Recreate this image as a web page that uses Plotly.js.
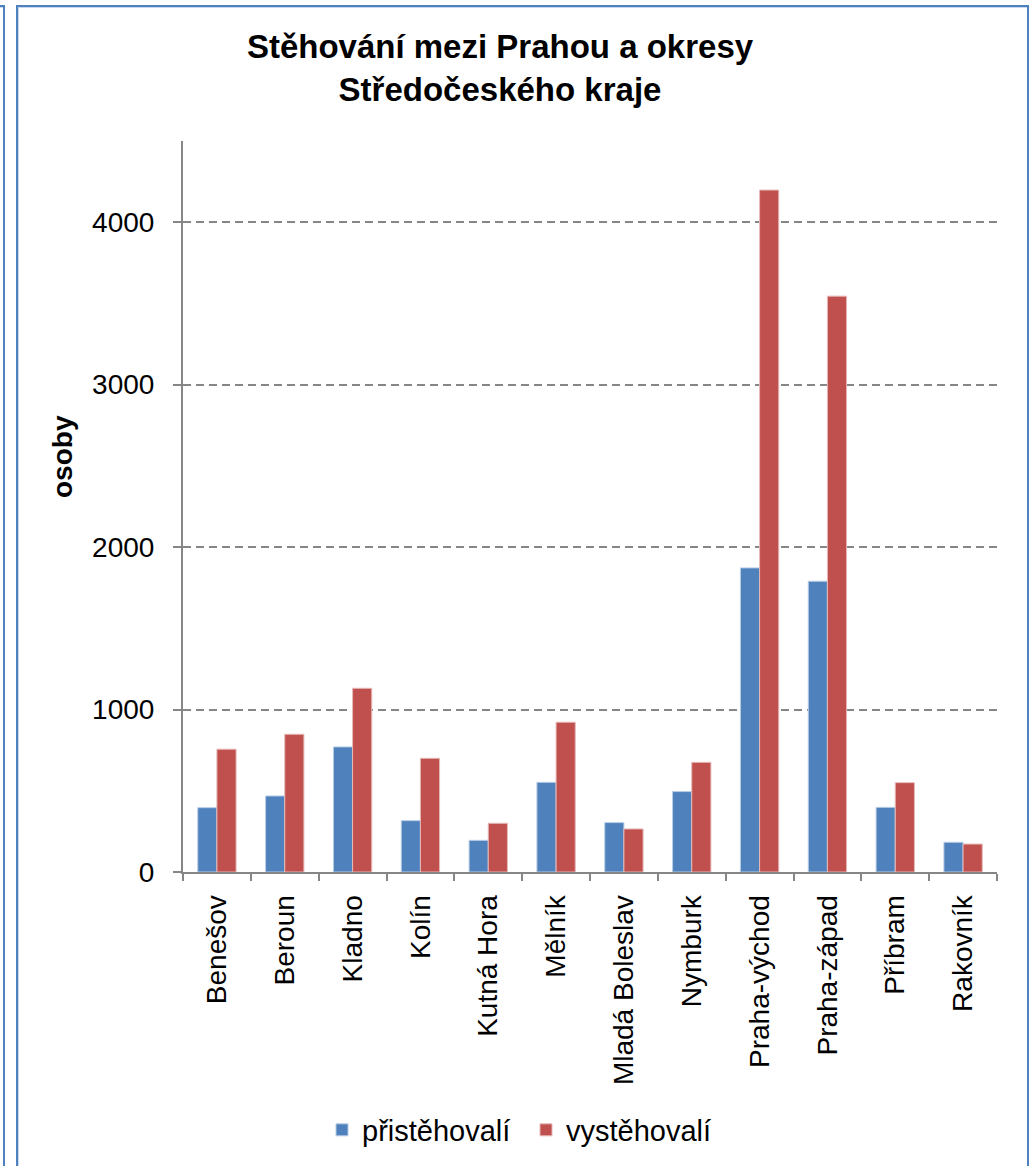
<!DOCTYPE html>
<html>
<head>
<meta charset="utf-8">
<script src="https://cdn.plot.ly/plotly-3.0.1.min.js"></script>
<style>
  html, body { margin: 0; padding: 0; background: #fff; overflow: hidden; }
  #wrap { position: relative; width: 1033px; height: 1166px; }
  #chart { position: absolute; left: 0; top: 0; width: 1033px; height: 1166px; }
  .frame { position: absolute; border: 2px solid #4F81BD; box-shadow: inset 1px 1px 0 #C6D9F1; pointer-events: none; }
</style>
</head>
<body>
<div id="wrap">
  <div id="chart"></div>
  <div class="frame" style="left:16px; top:5px; width:1009px; height:1180px;"></div>
  <div class="frame" style="left:-1000px; top:5px; width:1001px; height:1180px;"></div>
</div>
<script>
const categories = ["Benešov", "Beroun", "Kladno", "Kolín", "Kutná Hora", "Mělník",
  "Mladá Boleslav", "Nymburk", "Praha-východ", "Praha-západ", "Příbram", "Rakovník"];
const pristehovali = [396, 468, 770, 316, 195, 552, 304, 495, 1872, 1790, 398, 183];
const vystehovali  = [756, 848, 1131, 700, 300, 922, 265, 675, 4198, 3545, 550, 172];
const seriesNames = ["přistěhovalí", "vystěhovalí"];
const yTicks = [0, 1000, 2000, 3000, 4000];

const FONT = "'Liberation Sans', Arial, sans-serif";
const AXIS_COLOR = "#868686";

const traces = [
  {
    type: "bar", name: seriesNames[0], x: categories, y: pristehovali,
    marker: { color: "#4F81BD", line: { color: "#B9CDE5", width: 1 } }
  },
  {
    type: "bar", name: seriesNames[1], x: categories, y: vystehovali,
    marker: { color: "#C0504D", line: { color: "#E6B9B8", width: 1 } }
  }
];

const layout = {
  width: 1033, height: 1166, autosize: false,
  paper_bgcolor: "#fff", plot_bgcolor: "#fff",
  font: { family: FONT, color: "#000", size: 28 },
  margin: { l: 183, r: 36, t: 141, b: 294, pad: 0 },
  barmode: "group", bargap: 0.435, bargroupgap: 0,
  title: {
    text: "<b>Stěhování mezi Prahou a okresy<br>Středočeského kraje</b>",
    font: { family: FONT, size: 33, color: "#000" },
    xref: "container", yref: "container",
    x: 500 / 1033, xanchor: "center",
    y: 1 - 58 / 1166, yanchor: "top"
  },
  xaxis: {
    type: "category", tickangle: -90,
    showline: true, linecolor: AXIS_COLOR, linewidth: 2,
    ticks: "outside", tickson: "boundaries", ticklen: 7, tickcolor: AXIS_COLOR, tickwidth: 2,
    showgrid: false, zeroline: false,
    tickfont: { family: FONT, size: 28, color: "#000" },
    ticklabelstandoff: 10
  },
  yaxis: {
    range: [0, 4500], tickvals: yTicks, ticktext: yTicks.map(String),
    showline: true, linecolor: AXIS_COLOR, linewidth: 2,
    ticks: "outside", ticklen: 8, tickcolor: AXIS_COLOR, tickwidth: 2,
    showgrid: true, gridcolor: AXIS_COLOR, gridwidth: 2, griddash: "8px,5px",
    zeroline: false,
    tickfont: { family: FONT, size: 28, color: "#000" },
    ticklabelstandoff: 13
  },
  annotations: [{
    text: "<b>osoby</b>", textangle: -90, showarrow: false,
    xref: "paper", yref: "paper",
    x: (62 - 183) / 814, y: (872 - 457) / 731,
    xanchor: "center", yanchor: "middle",
    font: { family: FONT, size: 28, color: "#000" }
  }],
  showlegend: true,
  legend: {
    orientation: "h", xref: "container", yref: "container",
    x: 526 / 1033, xanchor: "center",
    y: 1 - 1130 / 1166, yanchor: "middle",
    font: { family: FONT, size: 29, color: "#000" },
    entrywidth: 159, entrywidthmode: "pixels",
    bgcolor: "rgba(0,0,0,0)", itemclick: false
  }
};

Plotly.newPlot("chart", traces, layout, { displayModeBar: false, staticPlot: true });
</script>
</body>
</html>
